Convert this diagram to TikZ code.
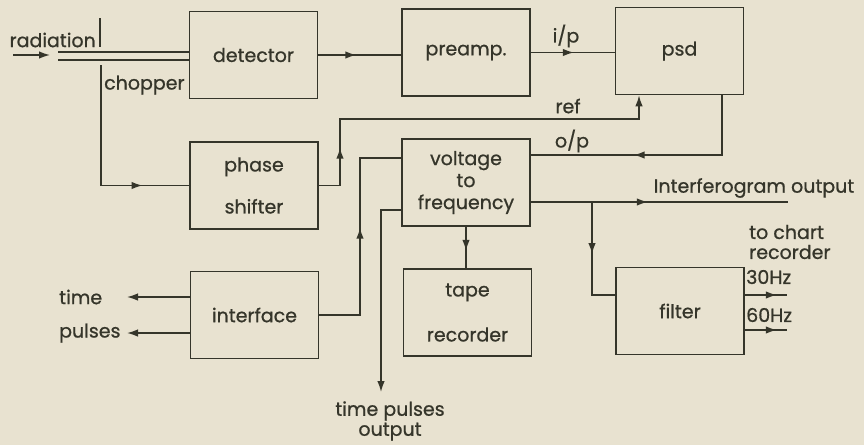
\documentclass[tikz,border=0pt]{standalone}
\usepackage{fontspec}
\setmainfont{Poppins}[FakeBold=0.8]
\usetikzlibrary{arrows.meta,decorations.markings,positioning}
\definecolor{paper}{HTML}{E8E2D0}
\definecolor{ink}{HTML}{35352A}

\begin{document}
\begin{tikzpicture}[x=1pt,y=-1pt,
  blk/.style={draw=ink,line width=1.6pt,minimum width=128pt,minimum height=87pt,
              inner sep=0pt,align=center,font=\fontsize{19}{22}\selectfont,text=ink},
  lbl/.style={font=\fontsize{19}{20}\selectfont,text=ink,inner sep=1pt},
  wire/.style={draw=ink,line width=1.5pt},
  tipat/.style={postaction={decorate,decoration={markings,
                mark=at position #1 with {\arrow{Latex[length=11pt,width=7.5pt]}}}}},
  tipend/.style={-{Latex[length=11pt,width=7.5pt]}}
]
\fill[paper] (0,0) rectangle (864,445);
\useasboundingbox (0,0) rectangle (864,445);

% blocks
\node[blk] (detector) at (253.5,55) {detector};
\node[blk] (preamp) at (466,52.5) {preamp.};
\node[blk] (psd) at (679.5,51) {psd};
\node[blk] (shifter) at (254,185.5) {phase\\[20pt]shifter};
\node[blk] (vtof) at (466,182.5) {voltage\\to\\frequency};
\node[blk] (tape) at (467.5,312.5) {tape\\[23pt]recorder};
\node[blk] (filter) at (680,311) {filter};
\node[blk] (interface) at (254.5,315) {interface};

% labels
\node[lbl,anchor=east] (radlbl) at (97,40) {radiation};
\node[lbl,anchor=west] (choplbl) at (103,85) {chopper};
\node[lbl] (iplbl) at (566,36) {i/p};
\node[lbl] (reflbl) at (568,106) {ref};
\node[lbl] (oplbl) at (572,141) {o/p};
\node[lbl] (intlbl) at (754,188) {Interferogram output};
\node[lbl,anchor=west,align=left] (chartlbl) at (748,242) {to chart\\recorder};
\node[lbl,anchor=west] (hzlow) at (745,277) {30Hz};
\node[lbl,anchor=west] (hzhigh) at (745,315) {60Hz};
\node[lbl,anchor=west] (timelbl) at (58,297) {time};
\node[lbl,anchor=west] (pulselbl) at (58,333) {pulses};
\node[lbl,align=center] (tpolbl) at (390,421) {time pulses\\output};

% free ends and knees
\coordinate (radin) at (13,55);
\coordinate (radtip) at (50,55);
\coordinate (bladetop) at (100,18);
\coordinate (bladebot) at (100,47);
\coordinate (beamA) at (58,52);
\coordinate (beamB) at (58,60);
\coordinate (chopstart) at (101,65);
\coordinate (refknee) at (340,119);
\coordinate (oprow) at (722,155);
\coordinate (branch) at (592,202);
\coordinate (intend) at (788,202);
\coordinate (ifknee) at (360,158);
\coordinate (tpoend) at (381,392);
\coordinate (timeend) at (127,297);
\coordinate (pulseend) at (127,333);
\coordinate (outlow) at (787,295);
\coordinate (outhigh) at (787,330);

% connectors
\draw[wire,tipend] (radin) -- (radtip);
\draw[wire] (bladetop) -- (bladebot);
\draw[wire,line width=1.1pt] (beamA) -- (beamA -| detector.west);
\draw[wire,line width=1.1pt] (beamB) -- (beamB -| detector.west);
\draw[wire,tipat=162pt] (chopstart) |- (shifter.west);
\draw[wire,tipat=38pt] (detector.east) -- (detector.east -| preamp.west);
\draw[wire,tipat=43pt] (preamp.east) -- (preamp.east -| psd.west);
\draw[wire,tipat=59pt,tipend] (shifter.east) -| (refknee) -| ([xshift=-40.5pt]psd.south);
\draw[wire,tipat=148pt] ([xshift=42.5pt]psd.south) -- (oprow) -- (oprow -| vtof.east);
\draw[wire,tipat=117pt] (branch -| vtof.east) -- (intend);
\draw[wire,tipat=52pt] (branch) |- ([yshift=16pt]filter.west);
\draw[wire,tipat=24pt] (vtof.south) -- (vtof.south |- tape.north);
\draw[wire,tipat=32pt] (outlow -| filter.east) -- (outlow);
\draw[wire,tipat=32pt] (outhigh -| filter.east) -- (outhigh);
\draw[wire,tipat=128pt] (interface.east) -| (ifknee) -- (ifknee -| vtof.west);
\draw[wire,tipend] ([yshift=-27.5pt]vtof.west) -| (tpoend);
\draw[wire,tipend] ([yshift=18pt]interface.west) -- (timeend);
\draw[wire,tipend] ([yshift=-18pt]interface.west) -- (pulseend);
\end{tikzpicture}
\end{document}
